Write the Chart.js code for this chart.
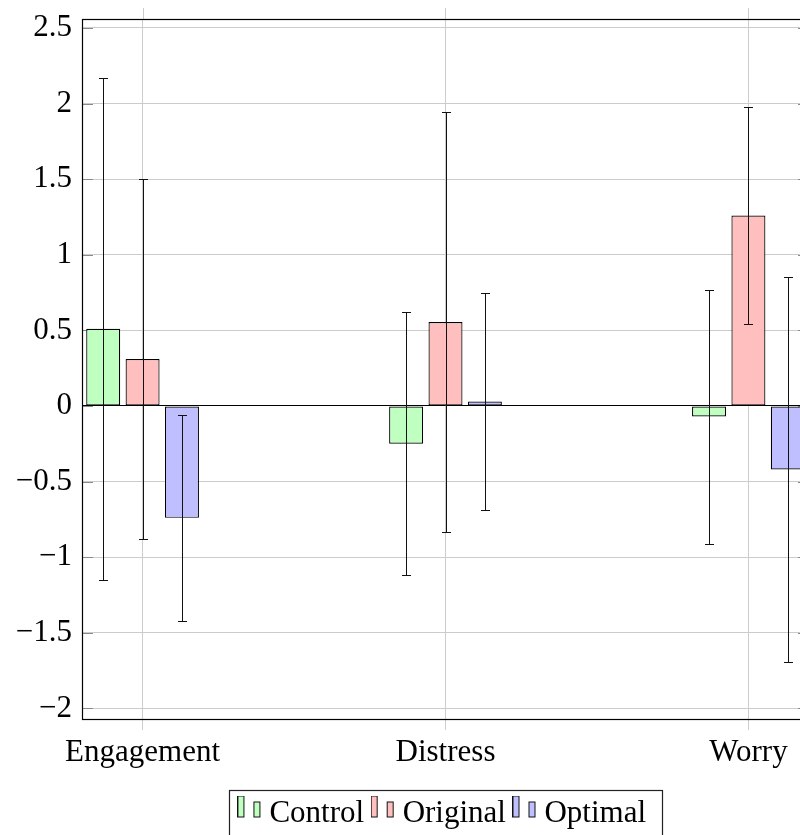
<!DOCTYPE html>
<html><head><meta charset="utf-8">
<style>
html,body{margin:0;padding:0;overflow:hidden;background:#fff;width:800px;height:835px}
#wrap{width:891px;height:835px}
canvas{display:block}
</style>
<script src="https://cdn.jsdelivr.net/npm/chart.js@4.4.0/dist/chart.umd.min.js"></script>
</head><body><div id="wrap"><canvas id="c" width="891" height="835" style="width:891px;height:835px"></canvas></div>
<script>
const categories = ['Engagement', 'Distress', 'Worry'];
const seriesNames = ['Control', 'Original', 'Optimal'];
const controlMeans = [0.51, -0.25, -0.07];
const controlErrors = [1.66, 0.87, 0.84];
const originalMeans = [0.31, 0.555, 1.26];
const originalErrors = [1.19, 1.39, 0.72];
const optimalMeans = [-0.74, 0.03, -0.42];
const optimalErrors = [0.68, 0.72, 1.27];
const yTicks = [-2, -1.5, -1, -0.5, 0, 0.5, 1, 1.5, 2, 2.5];

const means = [controlMeans, originalMeans, optimalMeans];
const errors = [controlErrors, originalErrors, optimalErrors];
const fills = ['#bfffbf', '#ffbfbf', '#bfbfff'];
const FONT = {family: "'Liberation Serif', 'DejaVu Serif', serif", size: 31};

function legendSymbol(fill) {
  const c = document.createElement('canvas');
  c.width = 24; c.height = 36;
  const g = c.getContext('2d');
  g.fillStyle = fill; g.strokeStyle = '#111'; g.lineWidth = 1;
  g.fillRect(0.5, 0.5, 6, 21); g.strokeRect(0.5, 0.5, 6, 21);
  g.fillRect(16.5, 6.5, 6, 15); g.strokeRect(16.5, 6.5, 6, 15);
  return c;
}
const symbols = fills.map(legendSymbol);

function fmt(v) {
  return (v < 0 ? '\u2212' : '') + String(Math.abs(v));
}

const decor = {
  id: 'decor',
  beforeDatasetsDraw(chart) {
    const {ctx, chartArea: a, scales: {x, y}} = chart;
    ctx.save();
    ctx.lineWidth = 1;
    ctx.strokeStyle = '#cccccc';
    categories.forEach((_, i) => {
      const px = Math.round(x.getPixelForValue(i)) + 0.5;
      ctx.beginPath(); ctx.moveTo(px, a.top); ctx.lineTo(px, a.top - 11); ctx.stroke();
    });
    ctx.strokeStyle = '#8a8a8a';
    yTicks.forEach(v => {
      const py = Math.round(y.getPixelForValue(v)) + 0.5;
      ctx.beginPath();
      ctx.moveTo(a.left, py); ctx.lineTo(a.left + 11, py);
      ctx.moveTo(a.right, py); ctx.lineTo(a.right - 11, py);
      ctx.stroke();
    });
    ctx.restore();
  },
  afterDatasetsDraw(chart) {
    const {ctx, chartArea: a, scales: {y}} = chart;
    ctx.save();
    ctx.strokeStyle = '#111';
    ctx.lineWidth = 1;
    means.forEach((m, i) => {
      const meta = chart.getDatasetMeta(i);
      meta.data.forEach((bar, j) => {
        const px = Math.round(bar.x) + 0.5;
        const yt = Math.round(y.getPixelForValue(m[j] + errors[i][j])) + 0.5;
        const yb = Math.round(y.getPixelForValue(m[j] - errors[i][j])) + 0.5;
        ctx.beginPath();
        ctx.moveTo(px, yt); ctx.lineTo(px, yb);
        ctx.moveTo(px - 4.5, yt); ctx.lineTo(px + 4.5, yt);
        ctx.moveTo(px - 4.5, yb); ctx.lineTo(px + 4.5, yb);
        ctx.stroke();
      });
    });
    ctx.strokeStyle = '#000';
    ctx.lineWidth = 1.2;
    ctx.strokeRect(a.left + 0.5, a.top + 0.5, a.right - a.left, a.bottom - a.top);
    ctx.restore();
  },
  afterDraw(chart) {
    const lg = chart.legend;
    if (!lg || !lg.legendHitBoxes || !lg.legendHitBoxes.length) return;
    const hb = lg.legendHitBoxes;
    const last = hb[hb.length - 1];
    const ctx = chart.ctx;
    ctx.save();
    ctx.strokeStyle = '#222';
    ctx.lineWidth = 1.2;
    const l = Math.round(hb[0].left - 15.5) + 0.5;
    const r = Math.round(last.left + last.width + 16) + 0.5;
    const t = Math.round(hb[0].top - 8) + 0.5;
    ctx.strokeRect(l, t, r - l, 900 - t);
    ctx.restore();
  }
};

new Chart(document.getElementById('c'), {
  type: 'bar',
  data: {
    datasets: seriesNames.map((n, i) => ({
      label: n,
      data: means[i].map((v, j) => ({x: j, y: v})),
      backgroundColor: fills[i],
      borderColor: '#000',
      borderWidth: 1.2,
      borderSkipped: false,
      categoryPercentage: 0.39,
      barPercentage: 0.863
    }))
  },
  options: {
    responsive: false,
    animation: false,
    devicePixelRatio: 1,
    layout: {padding: {top: 19, right: 82, bottom: -4, left: 0}},
    scales: {
      x: {
        type: 'linear', min: -0.2, max: 2.2, offset: false,
        afterBuildTicks: s => { s.ticks = categories.map((_, i) => ({value: i})); },
        afterFit: s => { s.height = 65; s.paddingLeft = 0; s.paddingRight = 0; },
        ticks: {callback: v => categories[v] ?? '', font: FONT, color: '#000', padding: 4, maxRotation: 0, autoSkip: false},
        grid: {offset: false, color: '#cccccc', tickColor: '#cccccc', tickLength: 11, drawTicks: true, lineWidth: 1},
        border: {display: false}
      },
      y: {
        type: 'linear', min: -2.0703, max: 2.5595,
        afterBuildTicks: s => { s.ticks = yTicks.map(v => ({value: v})); },
        afterFit: s => { s.width = 82; s.paddingTop = 0; s.paddingBottom = 0; },
        ticks: {callback: v => fmt(v), font: FONT, color: '#000', padding: 10},
        grid: {color: c => (c.tick && c.tick.value === 0) ? '#000' : '#cccccc', drawTicks: false, lineWidth: 1},
        border: {display: false}
      }
    },
    plugins: {
      tooltip: {enabled: false},
      legend: {
        position: 'bottom',
        fullSize: false,
        labels: {
          usePointStyle: true,
          pointStyleWidth: 9,
          boxHeight: 31,
          padding: 14,
          color: '#000',
          font: FONT,
          generateLabels: () => seriesNames.map((n, i) => ({
            text: n, pointStyle: symbols[i], fillStyle: fills[i], strokeStyle: '#111',
            lineWidth: 1, hidden: false, datasetIndex: i, fontColor: '#000'
          }))
        }
      }
    }
  },
  plugins: [decor]
});
</script>
</body></html>
